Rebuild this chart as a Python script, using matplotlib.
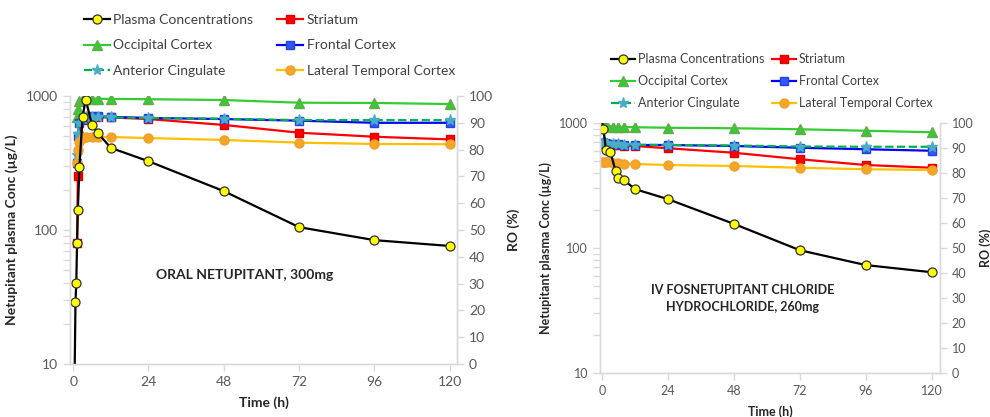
import matplotlib
matplotlib.use('Agg')
import matplotlib.pyplot as plt
from matplotlib.ticker import LogLocator, NullFormatter, FixedLocator
import numpy as np

plt.rcParams['font.family'] = ['Lato', 'DejaVu Sans']

# ---- oral netupitant 300mg ----
t_pk_oral = [0, 0.75, 1, 1.25, 1.5, 2, 3, 4, 6, 8, 12, 24, 48, 72, 96, 120]
plasma_oral = [1, 29, 40, 80, 141, 295, 700, 940, 610, 525, 410, 326, 195, 105, 84, 76]

t_ro_oral = [1.25, 1.5, 2, 3, 4, 6, 8, 12, 24, 48, 72, 96, 120]
striatum_oral = [45, 70, 85, 91, 92, 92, 92, 92, 91.4, 89.2, 86.3, 84.8, 83.8]
occipital_oral = [92, 95, 98, 98.8, 99, 99, 99, 98.9, 98.8, 98.5, 97.5, 97.4, 97]
frontal_oral = [75, 85, 90, 91.5, 92.3, 92.5, 92.5, 92.2, 91.8, 91.4, 90.8, 90, 90]
anterior_oral = [78, 86, 90, 91.5, 92, 92.3, 92.3, 92, 91.8, 91.5, 91, 91, 91]
lateral_oral = [75, 80, 83, 84.3, 84.7, 84.7, 84.7, 84.7, 84.3, 83.6, 82.6, 82.1, 82]

# ---- IV fosnetupitant 260mg ----
t_pk_iv = [0, 0.5, 1.5, 3, 5, 6, 8, 12, 24, 48, 72, 96, 120]
plasma_iv = [1100, 900, 610, 590, 412, 363, 350, 296, 246, 156, 96, 73, 64]

t_ro_iv = [0.25, 0.5, 1, 2, 4, 6, 8, 12, 24, 48, 72, 96, 120]
striatum_iv = [92, 92, 91.8, 91.6, 91.4, 91.2, 91, 90.8, 89.9, 88.1, 85.5, 83.2, 82.1]
occipital_iv = [99, 99, 99, 98.8, 98.6, 98.5, 98.4, 98.3, 98.1, 97.9, 97.5, 96.9, 96.3]
frontal_iv = [92, 92, 92, 91.8, 91.6, 91.5, 91.4, 91.2, 91.2, 90.8, 90.1, 89.5, 88.9]
anterior_iv = [92, 92, 92, 91.8, 91.6, 91.5, 91.4, 91.3, 91.2, 91, 90.6, 90.5, 90.5]
lateral_iv = [84.5, 84.5, 84.4, 84.3, 84.2, 84, 83.8, 83.6, 83.2, 82.8, 82.1, 81.5, 81.2]

x_ticks = [0, 24, 48, 72, 96, 120]
ro_ticks = [0, 10, 20, 30, 40, 50, 60, 70, 80, 90, 100]

GREY = '#d9d9d9'
TXT = '#595959'
DARK = '#262626'


def panel(rect, xlim, t_pk, plasma, t_ro, stri, occ, fro, ant, lat, note, note_xy,
          leg_anchor, fs, lspace, cspace):
    ax = fig.add_axes(rect)
    ax2 = ax.twinx()
    ax.set_zorder(ax2.get_zorder() + 1)
    ax.patch.set_visible(False)

    l_pl, = ax.plot(t_pk, plasma, '-o', color='black', lw=1.6, ms=6.5,
                    mfc='#ffff00', mec='#303030', mew=0.9, zorder=2)
    l_st, = ax2.plot(t_ro, stri, '-s', color='#ff0000', lw=1.6, ms=6, mec='#e00000')
    l_oc, = ax2.plot(t_ro, occ, '-^', color='#33cc33', lw=1.6, ms=6.5, mec='#6aa84f')
    l_fr, = ax2.plot(t_ro, fro, '-s', color='#0000ff', lw=1.6, ms=6, mfc='#3355ff', mec='#2244dd')
    l_an, = ax2.plot(t_ro, ant, '--*', color='#00b050', lw=1.6, ms=8, mfc='#4bacc6', mec='#4bacc6')
    l_la, = ax2.plot(t_ro, lat, '-o', color='#ffc000', lw=1.6, ms=6.5, mfc='#f5a623', mec='#f0a030')

    ax.set_yscale('log')
    ax.set_ylim(10, 1000)
    ax.set_xlim(*xlim)
    ax2.set_ylim(0, 100)
    ax.set_xticks(x_ticks)
    ax2.set_yticks(ro_ticks)
    ax.yaxis.set_major_locator(FixedLocator([10, 100, 1000]))
    ax.yaxis.set_minor_locator(LogLocator(base=10, subs=np.arange(2, 10)))
    ax.yaxis.set_minor_formatter(NullFormatter())
    ax.set_yticklabels(['10', '100', '1000'])

    for a in (ax, ax2):
        for s in a.spines.values():
            s.set_color(GREY)
            s.set_linewidth(1.0)
        a.spines['top'].set_visible(False)
        a.tick_params(colors=GREY, labelcolor=TXT, labelsize=fs, length=5, width=1)
        a.tick_params(which='minor', colors=GREY, length=5, width=1)

    ax.set_xlabel('Time (h)', fontsize=fs, fontweight='bold', color=DARK, labelpad=6)
    ax.set_ylabel('Netupitant plasma Conc (µg/L)', fontsize=fs, fontweight='bold', color=DARK)
    ax2.set_ylabel('RO (%)', fontsize=fs, fontweight='bold', color=DARK)

    ax.text(note_xy[0], note_xy[1], note, transform=ax.transAxes, ha='center', va='center',
            fontsize=fs, fontweight='bold', color=DARK, linespacing=1.5)

    handles = [l_pl, l_st, l_oc, l_fr, l_an, l_la]
    labels = ['Plasma Concentrations', 'Striatum', 'Occipital Cortex', 'Frontal Cortex',
              'Anterior Cingulate', 'Lateral Temporal Cortex']
    # legend fills row-wise like the original (2 columns)
    order = [0, 2, 4, 1, 3, 5]
    leg = fig.legend([handles[i] for i in order], [labels[i] for i in order], ncol=2,
                     loc='upper left', bbox_to_anchor=leg_anchor, frameon=False,
                     fontsize=fs, handlelength=1.9, handletextpad=0.25, columnspacing=cspace,
                     labelspacing=lspace, borderaxespad=0)
    for txt in leg.get_texts():
        txt.set_color('#404040')
    return ax, ax2


fig = plt.figure(figsize=(9.9, 4.17), dpi=100)

ax_a, ax_a2 = panel([70 / 990, 1 - 364 / 417, 387 / 990, 268 / 417], (-1, 122.3),
                    t_pk_oral, plasma_oral, t_ro_oral, striatum_oral, occipital_oral,
                    frontal_oral, anterior_oral, lateral_oral,
                    'ORAL NETUPITANT, 300mg', (0.452, 0.332), (78 / 990, 1 - 8 / 417),
                    10, 1.0, 1.7)
ax_a.yaxis.set_label_coords(-0.135, 0.5)
ax_a2.yaxis.set_label_coords(1.13, 0.5)

ax_b, ax_b2 = panel([600 / 990, 1 - 373 / 417, 340 / 990, 250 / 417], (-0.7, 123),
                    t_pk_iv, plasma_iv, t_ro_iv, striatum_iv, occipital_iv,
                    frontal_iv, anterior_iv, lateral_iv,
                    'IV FOSNETUPITANT CHLORIDE\nHYDROCHLORIDE, 260mg', (0.42, 0.298),
                    (606 / 990, 1 - 48 / 417), 9, 0.8, 0.6)
ax_b.yaxis.set_label_coords(-0.14, 0.5)
ax_b2.yaxis.set_label_coords(1.115, 0.5)

fig.savefig('out.png', dpi=100)
